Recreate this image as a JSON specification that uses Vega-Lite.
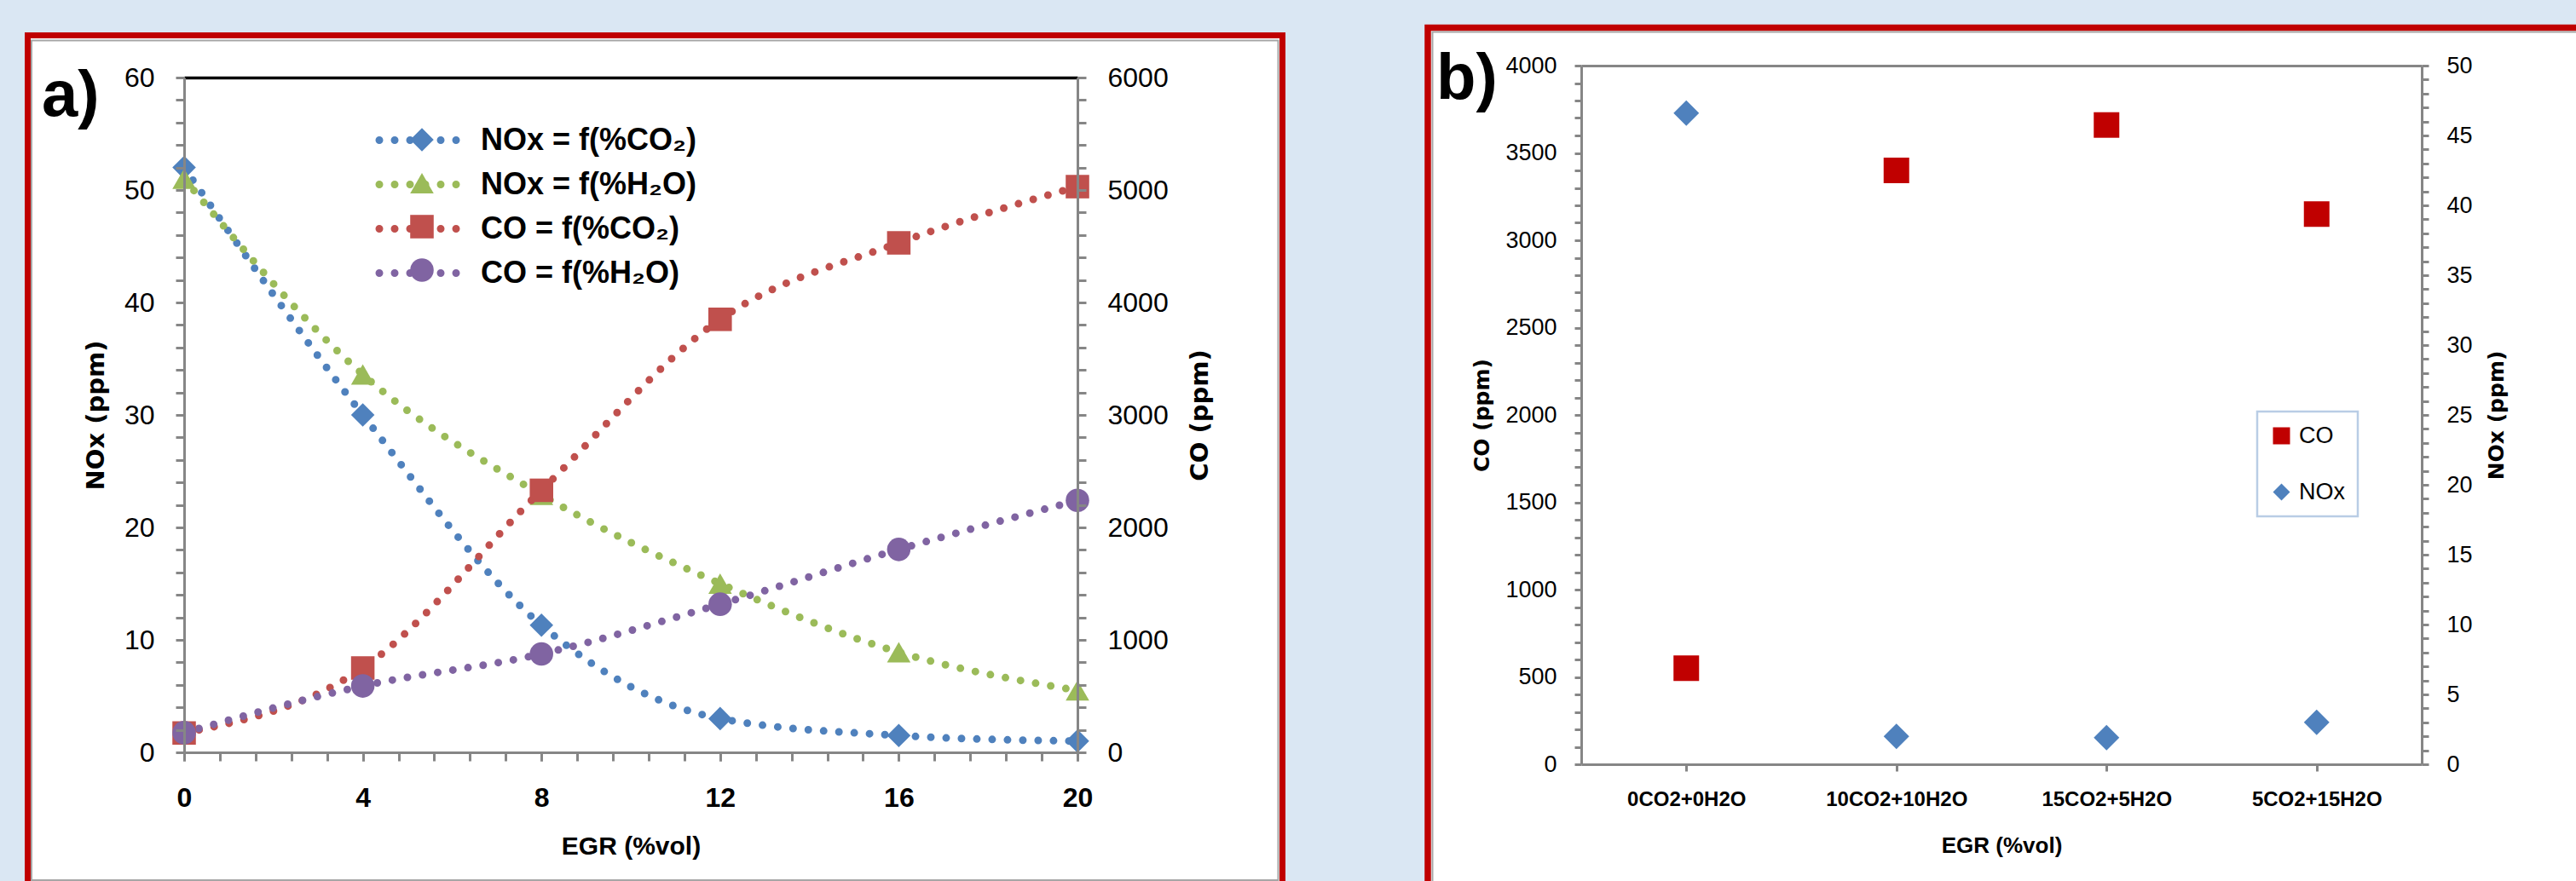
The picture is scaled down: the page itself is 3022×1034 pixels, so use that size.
{
  "$schema": "https://vega.github.io/schema/vega-lite/v6.json",
  "background": "#dae7f3",
  "padding": {"left": 28, "top": 28, "right": 0, "bottom": 0},
  "bounds": "flush",
  "center": true,
  "spacing": 591,
  "config": {
    "font": "Liberation Sans",
    "view": {"stroke": null},
    "axis": {
      "domainColor": "#868686", "domainWidth": 3, "tickColor": "#868686", "tickWidth": 3,
      "grid": false, "labelColor": "black", "titleColor": "black",
      "labelFont": "Liberation Sans", "titleFont": "Liberation Sans",
      "labelLimit": 0, "labelOverlap": false, "labelFlush": false, "labelBound": false, "zindex": 1
    },
    "legend": {"labelLimit": 0}
  },
  "resolve": {
    "scale": {"color": "independent", "shape": "independent", "stroke": "independent"},
    "legend": {"color": "independent", "shape": "independent", "stroke": "independent"}
  },
  "datasets": {
    "a_nox": [
      {"egr": 0, "series": "NOx = f(%CO₂)", "ppm": 52},
      {"egr": 4, "series": "NOx = f(%CO₂)", "ppm": 30},
      {"egr": 8, "series": "NOx = f(%CO₂)", "ppm": 11.3},
      {"egr": 12, "series": "NOx = f(%CO₂)", "ppm": 3},
      {"egr": 16, "series": "NOx = f(%CO₂)", "ppm": 1.5},
      {"egr": 20, "series": "NOx = f(%CO₂)", "ppm": 1.0},
      {"egr": 0, "series": "NOx = f(%H₂O)", "ppm": 51},
      {"egr": 4, "series": "NOx = f(%H₂O)", "ppm": 33.6},
      {"egr": 8, "series": "NOx = f(%H₂O)", "ppm": 22.9},
      {"egr": 12, "series": "NOx = f(%H₂O)", "ppm": 15},
      {"egr": 16, "series": "NOx = f(%H₂O)", "ppm": 8.9},
      {"egr": 20, "series": "NOx = f(%H₂O)", "ppm": 5.5}
    ],
    "a_co": [
      {"egr": 0, "series": "CO = f(%CO₂)", "ppm": 172},
      {"egr": 4, "series": "CO = f(%CO₂)", "ppm": 750},
      {"egr": 8, "series": "CO = f(%CO₂)", "ppm": 2330},
      {"egr": 12, "series": "CO = f(%CO₂)", "ppm": 3850},
      {"egr": 16, "series": "CO = f(%CO₂)", "ppm": 4530},
      {"egr": 20, "series": "CO = f(%CO₂)", "ppm": 5030},
      {"egr": 0, "series": "CO = f(%H₂O)", "ppm": 175},
      {"egr": 4, "series": "CO = f(%H₂O)", "ppm": 590},
      {"egr": 8, "series": "CO = f(%H₂O)", "ppm": 875},
      {"egr": 12, "series": "CO = f(%H₂O)", "ppm": 1317},
      {"egr": 16, "series": "CO = f(%H₂O)", "ppm": 1804},
      {"egr": 20, "series": "CO = f(%H₂O)", "ppm": 2240}
    ],
    "b_co": [
      {"mix": "0CO2+0H2O", "series": "CO", "ppm": 550},
      {"mix": "10CO2+10H2O", "series": "CO", "ppm": 3400},
      {"mix": "15CO2+5H2O", "series": "CO", "ppm": 3660},
      {"mix": "5CO2+15H2O", "series": "CO", "ppm": 3150}
    ],
    "b_nox": [
      {"mix": "0CO2+0H2O", "series": "NOx", "ppm": 46.6},
      {"mix": "10CO2+10H2O", "series": "NOx", "ppm": 2.0},
      {"mix": "15CO2+5H2O", "series": "NOx", "ppm": 1.9},
      {"mix": "5CO2+15H2O", "series": "NOx", "ppm": 3.0}
    ]
  },
  "hconcat": [
    {
      "width": 1048,
      "height": 792,
      "title": {"text": "a)", "orient": "top", "anchor": "start", "frame": "group", "offset": 0, "align": "left", "dx": -167, "dy": 114, "fontSize": 76, "fontWeight": "bold", "font": "Liberation Sans", "color": "black"},
      "resolve": {"scale": {"x": "independent", "y": "independent"}},
      "layer": [
        {
          "data": {"values": [{}]},
          "mark": {"type": "rect", "fill": "white", "stroke": "#c00000", "strokeWidth": 7},
          "encoding": {
            "x": {"datum": -3.502, "type": "quantitative", "scale": {"domain": [0, 20], "nice": false, "zero": false},
              "axis": {"orient": "bottom", "zindex": 1, "tickCount": 200, "values": [0,1.6,3.2,4.8,6.4,8,9.6,11.2,12.8,14.4,16,17.6,19.2], "labels": false, "domain": false, "tickSize": 10, "title": null}},
            "x2": {"datum": 24.59},
            "y": {"datum": 1.0625, "type": "quantitative", "scale": {"domain": [0, 1], "nice": false, "zero": false}, "axis": null},
            "y2": {"datum": -0.197}
          }
        },
        {
          "data": {"values": [{}]},
          "mark": {"type": "rect", "fillOpacity": 0, "stroke": "#a6a6a6", "strokeWidth": 2},
          "encoding": {
            "x": {"datum": -3.416, "type": "quantitative", "scale": {"domain": [0, 20], "nice": false, "zero": false},
              "axis": {"orient": "bottom", "zindex": 1, "tickCount": 200, "values": [0.8,2.4,4,5.6,7.2,8.8,10.4,12,13.6,15.2,16.8,18.4,20], "labels": false, "domain": false, "tickSize": 10, "title": null}},
            "x2": {"datum": 24.494},
            "y": {"datum": 1.0549, "type": "quantitative", "scale": {"domain": [0, 1], "nice": false, "zero": false}, "axis": null},
            "y2": {"datum": -0.1894}
          }
        },
        {
          "data": {"name": "a_nox"},
          "encoding": {
            "x": {"field": "egr", "type": "quantitative", "scale": {"domain": [0, 20], "nice": false, "zero": false},
              "axis": {"orient": "bottom", "zindex": 1, "labelOverlap": false, "labelFlush": false, "values": [0, 4, 8, 12, 16, 20],
                "format": "d", "tickSize": 10, "labelPadding": 28,
                "labelFontSize": 32, "labelFontWeight": "bold", "title": "EGR (%vol)", "titleFontSize": 30, "titleFontWeight": "bold", "titlePadding": 26}},
            "y": {"field": "ppm", "type": "quantitative", "scale": {"domain": [0, 60], "nice": false},
              "axis": {"orient": "left", "zindex": 1, "tickCount": 200, "labelOverlap": false, "values": [0,2,4,6,8,10,12,14,16,18,20,22,24,26,28,30,32,34,36,38,40,42,44,46,48,50,52,54,56,58,60],
                "labelExpr": "datum.value % 10 === 0 ? datum.label : ''", "format": "d", "tickSize": 10, "labelPadding": 25,
                "labelFontSize": 32, "title": "NOx (ppm)", "titleFont": "DejaVu Sans", "titleFontSize": 29, "titleFontWeight": "bold", "titlePadding": 18}}
          },
          "layer": [
            {
              "mark": {"type": "line", "interpolate": "monotone", "strokeWidth": 9, "strokeDash": [0, 18], "strokeCap": "round"},
              "encoding": {
                "stroke": {"field": "series", "type": "nominal",
                  "scale": {"domain": ["NOx = f(%CO₂)", "NOx = f(%H₂O)", "CO = f(%CO₂)", "CO = f(%H₂O)", "~"], "range": ["#4f81bd", "#9bbb59", "#c0504d", "#8064a2", "#ffffff"]},
                  "legend": {"orient": "none", "legendX": 256, "legendY": 55, "title": null, "values": ["NOx = f(%CO₂)", "NOx = f(%H₂O)", "CO = f(%CO₂)", "CO = f(%H₂O)"],
                    "symbolType": "M-3.3,0H3.3", "symbolSize": 760, "symbolStrokeWidth": 9, "symbolDash": [0, 18], "symbolFillColor": "transparent",
                    "labelFont": "Liberation Sans", "labelFontSize": 36, "labelFontWeight": "bold", "labelColor": "black", "labelOffset": 55,
                    "rowPadding": 15, "padding": 0, "encode": {"symbols": {"update": {"strokeCap": {"value": "round"}, "fill": {"value": "transparent"}}}}}}
              }
            },
            {
              "mark": {"type": "point", "filled": true, "size": 760, "opacity": 1, "strokeWidth": 0},
              "encoding": {
                "color": {"field": "series", "type": "nominal",
                  "scale": {"domain": ["NOx = f(%CO₂)", "NOx = f(%H₂O)", "CO = f(%CO₂)", "CO = f(%H₂O)"], "range": ["#4f81bd", "#9bbb59", "#c0504d", "#8064a2"]},
                  "legend": {"orient": "none", "legendX": 261, "legendY": 55, "title": null, "symbolSize": 760, "symbolStrokeWidth": 0, "symbolOpacity": 1,
                    "labelFontSize": 36, "labelFontWeight": "bold", "labelExpr": "' '", "labelOpacity": 0, "rowPadding": 15, "padding": 0, "zindex": 2}},
                "shape": {"field": "series", "type": "nominal",
                  "scale": {"domain": ["NOx = f(%CO₂)", "NOx = f(%H₂O)", "CO = f(%CO₂)", "CO = f(%H₂O)"], "range": ["diamond", "triangle-up", "square", "circle"]}}
              }
            }
          ]
        },
        {
          "data": {"name": "a_co"},
          "encoding": {
            "x": {"field": "egr", "type": "quantitative", "scale": {"domain": [0, 20], "nice": false, "zero": false},
              "axis": {"orient": "top", "zindex": 1, "domainColor": "black", "domainWidth": 3.5, "ticks": false, "labels": false, "title": null}},
            "y": {"field": "ppm", "type": "quantitative", "scale": {"domain": [0, 6000], "nice": false},
              "axis": {"orient": "right", "zindex": 1, "tickCount": 200, "labelOverlap": false, "values": [0,200,400,600,800,1000,1200,1400,1600,1800,2000,2200,2400,2600,2800,3000,3200,3400,3600,3800,4000,4200,4400,4600,4800,5000,5200,5400,5600,5800,6000],
                "labelExpr": "datum.value % 1000 === 0 ? datum.label : ''", "format": "d", "tickSize": 10, "labelPadding": 25,
                "labelFontSize": 32, "title": "CO (ppm)", "titleFont": "DejaVu Sans", "titleFontSize": 29, "titleFontWeight": "bold",
                "titleAngle": 270, "titleBaseline": "top", "titlePadding": 23}}
          },
          "layer": [
            {
              "mark": {"type": "line", "interpolate": "monotone", "strokeWidth": 9, "strokeDash": [0, 18], "strokeCap": "round"},
              "encoding": {
                "stroke": {"field": "series", "type": "nominal",
                  "scale": {"domain": ["NOx = f(%CO₂)", "NOx = f(%H₂O)", "CO = f(%CO₂)", "CO = f(%H₂O)", "~"], "range": ["#4f81bd", "#9bbb59", "#c0504d", "#8064a2", "#ffffff"]}}
              }
            },
            {
              "mark": {"type": "point", "filled": true, "size": 760, "opacity": 1, "strokeWidth": 0},
              "encoding": {
                "color": {"field": "series", "type": "nominal",
                  "scale": {"domain": ["NOx = f(%CO₂)", "NOx = f(%H₂O)", "CO = f(%CO₂)", "CO = f(%H₂O)"], "range": ["#4f81bd", "#9bbb59", "#c0504d", "#8064a2"]}},
                "shape": {"field": "series", "type": "nominal",
                  "scale": {"domain": ["NOx = f(%CO₂)", "NOx = f(%H₂O)", "CO = f(%CO₂)", "CO = f(%H₂O)"], "range": ["diamond", "triangle-up", "square", "circle"]}}
              }
            }
          ]
        }
      ]
    },
    {
      "width": 986,
      "height": 820,
      "title": {"text": "b)", "orient": "top", "anchor": "start", "frame": "group", "offset": 0, "align": "left", "dx": -170, "dy": 103, "fontSize": 76, "fontWeight": "bold", "font": "Liberation Sans", "color": "black"},
      "resolve": {"scale": {"x": "independent", "y": "independent"}},
      "layer": [
        {
          "data": {"values": [{}]},
          "mark": {"type": "rect", "fill": "white", "stroke": "#c00000", "strokeWidth": 7.5},
          "encoding": {
            "x": {"datum": -0.18256, "type": "quantitative", "scale": {"domain": [0, 1], "nice": false, "zero": false}, "axis": null},
            "x2": {"datum": 1.2028},
            "y": {"datum": 1.0543, "type": "quantitative", "scale": {"domain": [0, 1], "nice": false, "zero": false}, "axis": null},
            "y2": {"datum": -0.1817}
          }
        },
        {
          "data": {"values": [{}]},
          "mark": {"type": "rect", "fillOpacity": 0, "stroke": "#a6a6a6", "strokeWidth": 2},
          "encoding": {
            "x": {"datum": -0.1770, "type": "quantitative", "scale": {"domain": [0, 1], "nice": false, "zero": false}, "axis": null},
            "x2": {"datum": 1.1968},
            "y": {"datum": 1.0482, "type": "quantitative", "scale": {"domain": [0, 1], "nice": false, "zero": false}, "axis": null},
            "y2": {"datum": -0.1756}
          }
        },
        {
          "data": {"name": "b_co"},
          "mark": {"type": "point", "filled": true, "size": 900, "opacity": 1, "strokeWidth": 0},
          "encoding": {
            "x": {"field": "mix", "type": "nominal", "scale": {"type": "point", "domain": ["0CO2+0H2O", "10CO2+10H2O", "15CO2+5H2O", "5CO2+15H2O"], "padding": 0.5},
              "axis": {"orient": "bottom", "zindex": 1, "labelOverlap": false, "labelAngle": 0, "labelFontSize": 24, "labelFontWeight": "bold", "tickSize": 8, "labelPadding": 21,
                "title": "EGR (%vol)", "titleFontSize": 26, "titleFontWeight": "bold", "titlePadding": 29}},
            "y": {"field": "ppm", "type": "quantitative", "scale": {"domain": [0, 4000], "nice": false},
              "axis": {"orient": "left", "zindex": 1, "tickCount": 200, "labelOverlap": false, "values": [0,100,200,300,400,500,600,700,800,900,1000,1100,1200,1300,1400,1500,1600,1700,1800,1900,2000,2100,2200,2300,2400,2500,2600,2700,2800,2900,3000,3100,3200,3300,3400,3500,3600,3700,3800,3900,4000],
                "labelExpr": "datum.value % 500 === 0 ? datum.label : ''", "format": "d", "tickSize": 8, "labelPadding": 21,
                "labelFontSize": 27, "title": "CO (ppm)", "titleFont": "DejaVu Sans", "titleFontSize": 25, "titleFontWeight": "bold", "titlePadding": 14}},
            "color": {"field": "series", "type": "nominal", "scale": {"domain": ["CO", "NOx"], "range": ["#c00000", "#4f81bd"]},
              "legend": {"orient": "none", "legendX": 793, "legendY": 406, "title": null, "symbolSize": 400, "symbolStrokeWidth": 0, "symbolOpacity": 1,
                "labelFont": "Liberation Sans", "labelFontSize": 27, "labelColor": "black", "labelOffset": 7, "rowPadding": 38, "padding": 15,
                "strokeColor": "#b9cde5", "fillColor": "white", "encode": {"legend": {"update": {"strokeWidth": {"value": 2.5}}}}}},
            "shape": {"field": "series", "type": "nominal", "scale": {"domain": ["CO", "NOx"], "range": ["square", "diamond"]}}
          }
        },
        {
          "data": {"name": "b_nox"},
          "mark": {"type": "point", "filled": true, "size": 900, "opacity": 1, "strokeWidth": 0},
          "encoding": {
            "x": {"field": "mix", "type": "nominal", "scale": {"type": "point", "domain": ["0CO2+0H2O", "10CO2+10H2O", "15CO2+5H2O", "5CO2+15H2O"], "padding": 0.5},
              "axis": {"orient": "top", "zindex": 1, "ticks": false, "labels": false, "title": null}},
            "y": {"field": "ppm", "type": "quantitative", "scale": {"domain": [0, 50], "nice": false},
              "axis": {"orient": "right", "zindex": 1, "tickCount": 200, "labelOverlap": false, "values": [0,1,2,3,4,5,6,7,8,9,10,11,12,13,14,15,16,17,18,19,20,21,22,23,24,25,26,27,28,29,30,31,32,33,34,35,36,37,38,39,40,41,42,43,44,45,46,47,48,49,50],
                "labelExpr": "datum.value % 5 === 0 ? datum.label : ''", "format": "d", "tickSize": 8, "labelPadding": 21,
                "labelFontSize": 27, "title": "NOx (ppm)", "titleFont": "DejaVu Sans", "titleFontSize": 25, "titleFontWeight": "bold",
                "titleAngle": 270, "titleBaseline": "top", "titlePadding": 16}},
            "color": {"field": "series", "type": "nominal", "scale": {"domain": ["CO", "NOx"], "range": ["#c00000", "#4f81bd"]}},
            "shape": {"field": "series", "type": "nominal", "scale": {"domain": ["CO", "NOx"], "range": ["square", "diamond"]}}
          }
        }
      ]
    }
  ]
}
